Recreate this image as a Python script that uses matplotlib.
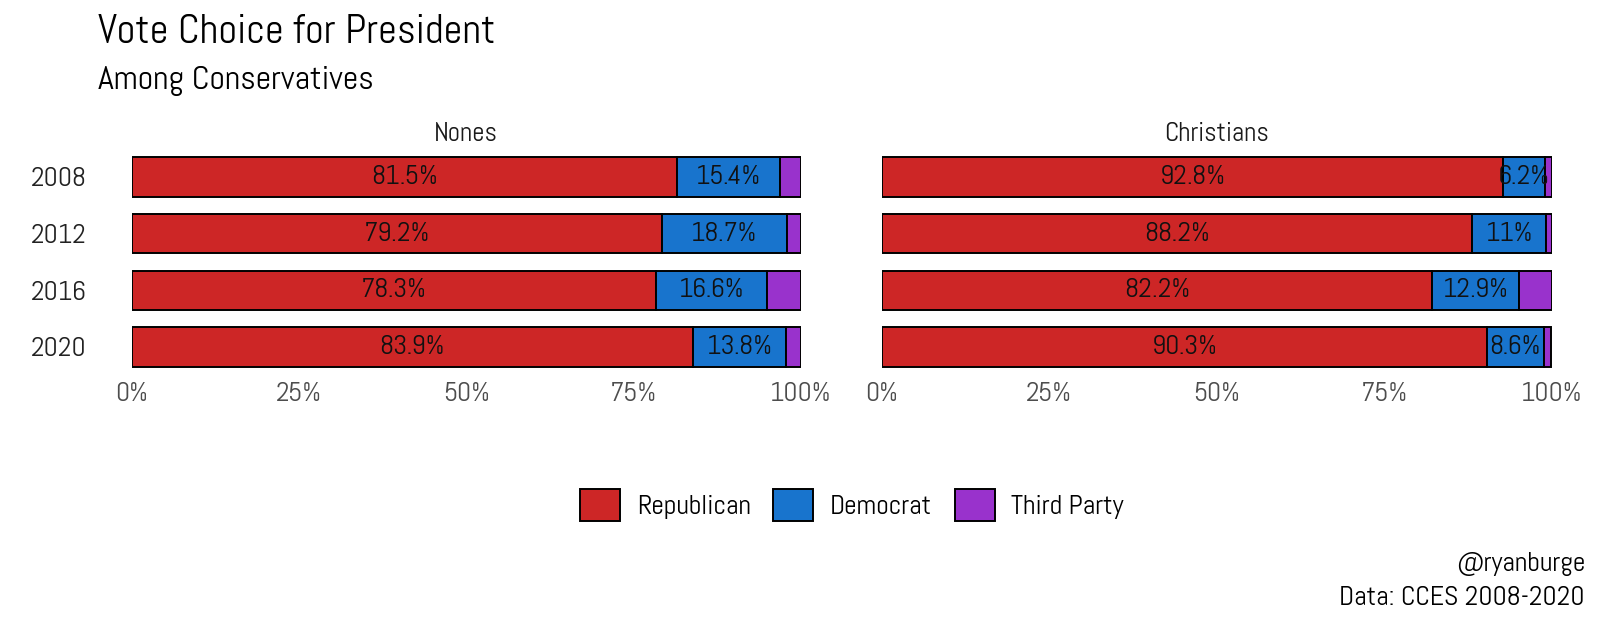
import numpy as np
import matplotlib.pyplot as plt
from matplotlib.patches import Patch

plt.rcParams['font.family'] = ['Abel', 'DejaVu Sans']

# data
years = ["2008", "2012", "2016", "2020"]
panels = ["Nones", "Christians"]
rep = {"Nones": [81.5, 79.2, 78.3, 83.9], "Christians": [92.8, 88.2, 82.2, 90.3]}
dem = {"Nones": [15.4, 18.7, 16.6, 13.8], "Christians": [6.2, 11.0, 12.9, 8.6]}
third = {"Nones": [3.1, 2.1, 5.1, 2.3], "Christians": [1.0, 0.8, 4.9, 1.1]}

colors = ["#CD2626", "#1874CD", "#9932CC"]
labels = ["Republican", "Democrat", "Third Party"]

W, H = 1600, 622
fig = plt.figure(figsize=(16, 6.22), dpi=100)
lefts = [131.5 / W, 882 / W]
w = 669.5 / W
bottom = 1 - 381 / H
h = (381 - 143) / H

for i, p in enumerate(panels):
    ax = fig.add_axes([lefts[i], bottom, w, h])
    y = np.arange(1, len(years) + 1)
    r = np.array(rep[p])
    d = np.array(dem[p])
    t = np.array(third[p])
    ax.barh(y, r, height=0.7, color=colors[0], edgecolor="black", linewidth=1.4)
    ax.barh(y, d, left=r, height=0.7, color=colors[1], edgecolor="black", linewidth=1.4)
    ax.barh(y, t, left=r + d, height=0.7, color=colors[2], edgecolor="black", linewidth=1.4)
    for yy, rv, dv in zip(y, r, d):
        ax.text(rv / 2, yy, f"{rv:g}%", ha="center", va="center", fontsize=20, color="#111111")
        ax.text(rv + dv / 2, yy, f"{dv:g}%", ha="center", va="center", fontsize=20, color="#111111")
    ax.set_xlim(0, 100)
    ax.set_ylim(4.6, 0.4)
    ax.set_xticks([0, 25, 50, 75, 100])
    ax.set_xticklabels(["0%", "25%", "50%", "75%", "100%"], fontsize=20, color="#4D4D4D")
    if i == 0:
        ax.set_yticks(y)
        ax.set_yticklabels(years, fontsize=20, color="#222222")
        ax.tick_params(axis="y", length=0, pad=32)
    else:
        ax.set_yticks([])
    ax.tick_params(axis="x", length=0, pad=1)
    for s in ax.spines.values():
        s.set_visible(False)
    # facet strip label
    fig.text(lefts[i] + w / 2, 1 - 141 / H, p, ha="center", va="baseline", fontsize=19.5,
             color="#1A1A1A")

fig.text(98 / W, 1 - 43 / H, "Vote Choice for President", fontsize=29.6, va="baseline")
fig.text(98 / W, 1 - 89 / H, "Among Conservatives", fontsize=24.5, va="baseline")

handles = [Patch(facecolor=c, edgecolor="black", linewidth=1.4) for c in colors]
fig.legend(handles, labels, loc="center", bbox_to_anchor=(852 / W, 1 - 505 / H), ncol=3,
           frameon=False, fontsize=20, handlelength=1.45, handleheight=1.45,
           columnspacing=0.8, handletextpad=0.6, borderpad=0)

fig.text(1585 / W, 1 - 571 / H, "@ryanburge", fontsize=20, ha="right", va="baseline")
fig.text(1585 / W, 1 - 605 / H, "Data: CCES 2008-2020", fontsize=20, ha="right", va="baseline")

fig.savefig("out.png", dpi=100, facecolor="white")
